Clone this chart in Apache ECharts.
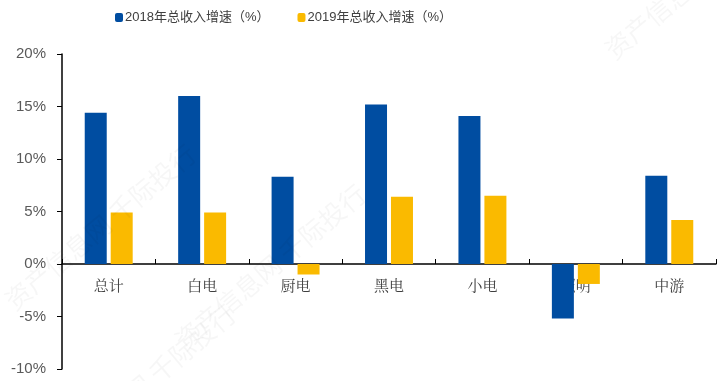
<!DOCTYPE html>
<html><head><meta charset="utf-8">
<script src="https://cdn.jsdelivr.net/npm/echarts@6/dist/echarts.min.js"></script>
<style>html,body{margin:0;padding:0;background:#fff}#c{width:724px;height:381px}</style>
</head><body><div id="c"></div>
<script>
const categories = ['总计','白电','厨电','黑电','小电','照明','中游'];
const growth2018 = [14.4, 16.0, 8.3, 15.2, 14.1, -5.2, 8.4];
const growth2019 = [4.9, 4.9, -1.0, 6.4, 6.5, -1.9, 4.2];
const seriesNames = ['2018年总收入增速（%）','2019年总收入增速（%）'];
const yTicks = {min:-10, max:20, interval:5};

const chart = echarts.init(document.getElementById('c'));
const wm = (x,y,t)=>({type:'text',left:x,top:y,rotation:Math.PI*40/180,z:100,silent:true,
  style:{text:t,fill:'rgba(0,0,0,0.035)',font:'26px "Noto Sans CJK SC"'}});
chart.setOption({
  animation:false,
  legend:{top:6,left:110,itemWidth:8,itemHeight:9,itemGap:28,
    textStyle:{fontSize:13,color:'#404040',fontFamily:'"Liberation Sans","Noto Sans CJK SC"',padding:[0,0,0,-3]},
    data:seriesNames},
  grid:{left:62,right:8,top:54,bottom:12,containLabel:false,outerBoundsMode:'none'},
  xAxis:{type:'category',data:categories,position:'bottom',offset:-105,
    axisLine:{onZero:false,lineStyle:{color:'#000',width:1.5}},
    axisTick:{show:true,inside:true,length:5,lineStyle:{color:'#000'},alignWithLabel:false},
    axisLabel:{margin:14,fontSize:15,color:'#404040',fontFamily:'"Noto Serif CJK SC","Noto Sans CJK SC"'}},
  yAxis:{type:'value',min:yTicks.min,max:yTicks.max,interval:yTicks.interval,
    axisLine:{show:true,lineStyle:{color:'#000',width:1.5}},
    axisTick:{show:true,length:5,lineStyle:{color:'#000'}},
    splitLine:{show:false},
    axisLabel:{margin:16,fontSize:15,color:'#595959',fontFamily:'"Liberation Sans",Arial',formatter:v=>v+'%'}},
  series:[
    {name:seriesNames[0],type:'bar',data:growth2018,barWidth:22,barGap:'18%',itemStyle:{color:'#004DA1'}},
    {name:seriesNames[1],type:'bar',data:growth2019,barWidth:22,itemStyle:{color:'#FABA00'}}
  ],
  graphic:[wm(0,140,'资产信息网 千际投行'),wm(170,180,'资产信息网 千际投行'),wm(600,-40,'资产信息网'),wm(40,300,'资产信息网 千际投行')]
});
</script></body></html>
